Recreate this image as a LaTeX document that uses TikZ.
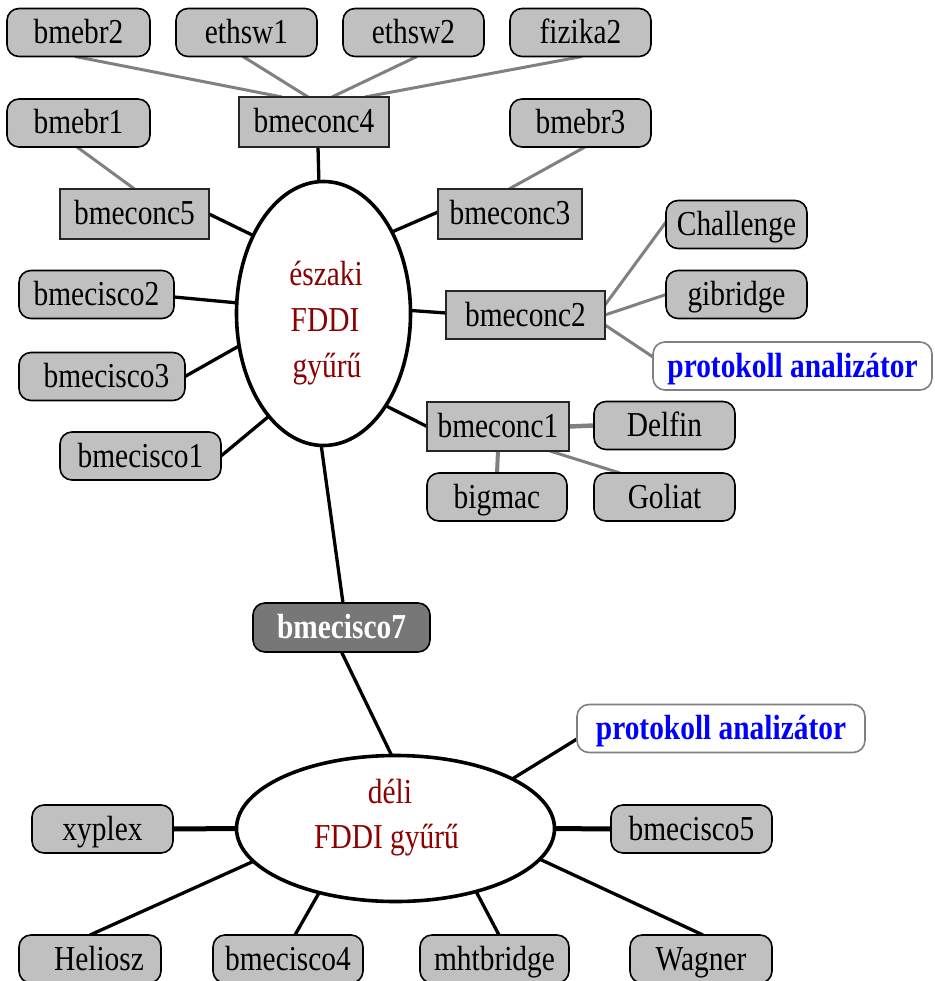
\documentclass[tikz,border=0pt]{standalone}
\usepackage{fontspec}
\setmainfont{Liberation Serif}[FakeStretch=0.84]
\usetikzlibrary{shapes.geometric,backgrounds}
\definecolor{boxgray}{RGB}{192,192,192}
\definecolor{linegray}{RGB}{128,128,128}
\definecolor{darkbox}{RGB}{119,119,119}
\definecolor{ringred}{RGB}{140,0,0}
\definecolor{pablue}{RGB}{0,0,255}
\begin{document}
\begin{tikzpicture}[x=1pt,y=-1pt,
  every node/.style={font=\fontsize{35pt}{40pt}\selectfont, inner sep=0pt, outer sep=0pt, text height=22pt, text depth=0pt},
  rbox/.style={draw=black, fill=boxgray, rounded corners=12pt, line width=1.6pt, minimum height=48pt},
  sbox/.style={draw=black!85, fill=boxgray, line width=1.6pt, minimum height=49pt},
  pbox/.style={draw=linegray, fill=white, rounded corners=12pt, line width=1.6pt, minimum height=48pt, text=pablue, font=\fontsize{35pt}{40pt}\selectfont\bfseries},
  dbox/.style={draw=black, fill=darkbox, rounded corners=12pt, line width=1.6pt, minimum height=49pt, text=white, font=\fontsize{35pt}{40pt}\selectfont\bfseries},
  ring/.style={draw=black, ellipse, fill=white, line width=3.6pt},
  ringtext/.style={text=ringred, anchor=base},
  gline/.style={draw=linegray, line width=3pt},
  bline/.style={draw=black, line width=3.3pt},
  tline/.style={draw=black, line width=5pt}
]
\useasboundingbox (0,0) rectangle (934,981);

% northern part
\node[rbox, minimum width=143pt] (bmebr2) at (78.5,32.5) {bmebr2};
\node[rbox, minimum width=141pt] (ethsw1) at (246.5,32.5) {ethsw1};
\node[rbox, minimum width=141pt] (ethsw2) at (413.5,32.5) {ethsw2};
\node[rbox, minimum width=141pt] (fizika2) at (580.5,32.5) {fizika2};
\node[rbox, minimum width=143pt] (bmebr1) at (78.5,123) {bmebr1};
\node[sbox, minimum width=150pt, minimum height=50pt] (bmeconc4) at (314,122) {bmeconc4};
\node[rbox, minimum width=141pt] (bmebr3) at (580.5,123) {bmebr3};
\node[sbox, minimum width=149pt, minimum height=50pt] (bmeconc5) at (134.5,214) {bmeconc5};
\node[sbox, minimum width=144pt, minimum height=50pt] (bmeconc3) at (510,214) {bmeconc3};
\node[rbox, minimum width=141pt] (challenge) at (736.5,224.5) {Challenge};
\node[rbox, minimum width=141pt] (gibridge) at (736.5,294.5) {gibridge};
\node[sbox, minimum width=159pt, minimum height=48pt] (bmeconc2) at (525.5,315) {bmeconc2};
\node[pbox, minimum width=279pt] (pa1) at (792.5,366) {protokoll analizátor};
\node[rbox, minimum width=155pt] (bmecisco2) at (96.5,294.5) {bmecisco2};
\node[rbox, minimum width=166pt] (bmecisco3) at (102,376.5) {\hspace*{9pt}bmecisco3};
\node[rbox, minimum width=161pt] (bmecisco1) at (140.5,456) {bmecisco1};
\node[sbox, minimum width=142pt] (bmeconc1) at (498,426.5) {bmeconc1};
\node[rbox, minimum width=141pt] (delfin) at (664.5,425.5) {Delfin};
\node[rbox, minimum width=140pt] (bigmac) at (497,497) {bigmac};
\node[rbox, minimum width=141pt] (goliat) at (664.5,497) {Goliat};
\node[ring, minimum width=174pt, minimum height=264pt] (north) at (323.5,313.5) {};
\node[ringtext] (nt1) at (326,285) {északi};
\node[ringtext] (nt2) at (325,331) {FDDI};
\node[ringtext] (nt3) at (327,377) {gyűrű};

% middle
\node[dbox, minimum width=177pt] (bmecisco7) at (341.5,627.5) {bmecisco7};

% southern part
\node[pbox, minimum width=288pt] (pa2) at (721,728.5) {protokoll analizátor};
\node[ring, minimum width=318pt, minimum height=146pt] (south) at (395.5,828.5) {};
\node[ringtext] (st1) at (390,803) {déli};
\node[ringtext] (st2) at (386.5,848) {FDDI gyűrű};
\node[rbox, minimum width=141pt] (xyplex) at (102.5,829) {xyplex};
\node[rbox, minimum width=161pt] (bmecisco5) at (691.5,829) {bmecisco5};
\node[rbox, minimum width=142pt] (heliosz) at (90,959) {\hspace*{18pt}Heliosz};
\node[rbox, minimum width=150pt] (bmecisco4) at (288,959) {bmecisco4};
\node[rbox, minimum width=149pt] (mhtbridge) at (494.5,959) {mhtbridge};
\node[rbox, minimum width=142pt] (wagner) at (701,959) {Wagner};

\begin{pgfonlayer}{background}
% gray links
\draw[gline] ([xshift=-3.5pt]bmebr2.south) -- ([xshift=-32pt]bmeconc4.north);
\draw[gline] ([xshift=-3.5pt]ethsw1.south) -- ([xshift=-6pt]bmeconc4.north);
\draw[gline] ([xshift=3.5pt]ethsw2.south) -- ([xshift=18pt]bmeconc4.north);
\draw[gline] ([xshift=1.5pt]fizika2.south) -- ([xshift=51pt]bmeconc4.north);
\draw[gline] ([xshift=-1.5pt]bmebr1.south) -- (bmeconc5.north);
\draw[gline] ([xshift=4.5pt]bmebr3.south) -- ([xshift=-1pt]bmeconc3.north);
\draw[gline] ([yshift=10pt]bmeconc2.east) -- ([yshift=2.5pt]challenge.west);
\draw[gline] (bmeconc2.east) -- (gibridge.west);
\draw[gline] ([yshift=-10pt]bmeconc2.east) -- ([yshift=9pt]pa1.west);
\draw[gline, line width=4.5pt] (bmeconc1.east) -- (delfin.west);
\draw[gline, line width=4pt] (bmeconc1.south) -- (bigmac.north);
\draw[gline] ([xshift=52pt]bmeconc1.south) -- ([xshift=-44.5pt]goliat.north);
% black links, north ring
\draw[bline] ([xshift=4pt]bmeconc4.south) -- (north.92);
\draw[bline] (bmeconc5.east) -- (north.132);
\draw[bline] ([yshift=2pt]bmeconc3.west) -- (north.50);
\draw[bline] ([yshift=-2.5pt]bmecisco2.east) -- (north.173);
\draw[bline] ([yshift=2pt]bmeconc2.west) -- (north.2);
\draw[bline] (bmecisco3.east) -- (north.201);
\draw[bline] (bmeconc1.west) -- (north.304);
\draw[bline] (bmecisco1.east) -- (north.242);
% ring to ring via bmecisco7
\draw[bline] (north.269) -- ([xshift=1.5pt]bmecisco7.north);
\draw[bline] (bmecisco7.south) -- (south.93);
% south ring
\draw[bline] ([yshift=-10.5pt]pa2.west) -- (south.23);
\draw[tline] (xyplex.east) -- (south.180);
\draw[tline] (bmecisco5.west) -- (south.0);
\draw[bline] (heliosz.north) -- (south.193);
\draw[bline] ([xshift=7pt]bmecisco4.north) -- (south.220);
\draw[bline] ([xshift=4.5pt]mhtbridge.north) -- (south.322);
\draw[bline] ([xshift=2pt]wagner.north) -- (south.348);
\end{pgfonlayer}
\end{tikzpicture}
\end{document}
